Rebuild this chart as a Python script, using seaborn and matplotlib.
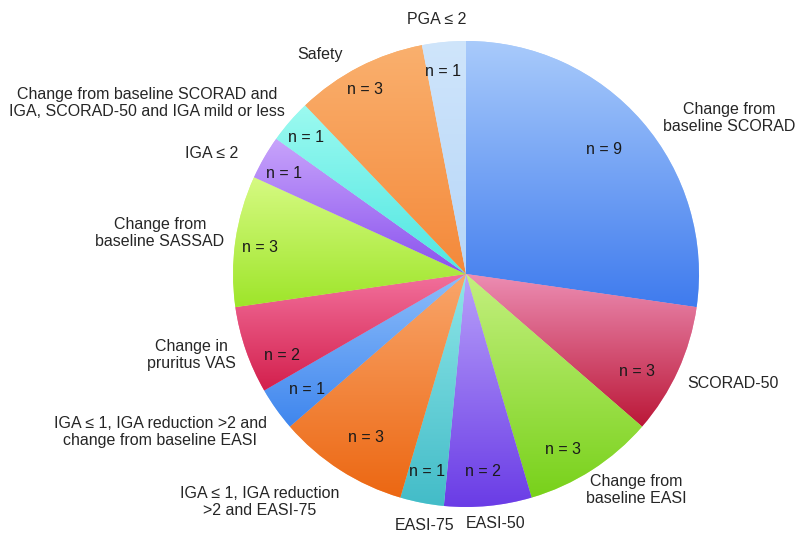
import numpy as np
import matplotlib
matplotlib.use("Agg")
import matplotlib.pyplot as plt
import seaborn as sns
from matplotlib.colors import to_rgb

# ---- data ----
categories = [
    "Change from\nbaseline SCORAD",
    "SCORAD-50",
    "Change from\nbaseline EASI",
    "EASI-50",
    "EASI-75",
    "IGA \u2264 1, IGA reduction\n>2 and EASI-75",
    "IGA \u2264 1, IGA reduction >2 and\nchange from baseline EASI",
    "Change in\npruritus VAS",
    "Change from\nbaseline SASSAD",
    "IGA \u2264 2",
    "Change from baseline SCORAD and\nIGA, SCORAD-50 and IGA mild or less",
    "Safety",
    "PGA \u2264 2",
]
counts = [9, 3, 3, 2, 1, 3, 1, 2, 3, 1, 1, 3, 1]
top_colors = ["#a9cbfb", "#ec8db3", "#c4f07f", "#b9a1fa", "#8ee6e8", "#f9a66b",
              "#8dbdfa", "#f2709c", "#d6fa82", "#c8a4fb", "#9cfaf0", "#fab06e", "#cfe5fb"]
bot_colors = ["#3f7bee", "#bb1737", "#78d11a", "#6a3ce6", "#43bcc8", "#ec6712",
              "#3f86ee", "#d31f4c", "#9ee52a", "#8a52ee", "#4fe6e2", "#f4893a", "#b6d6f8"]

# label positions (pixel layout of reference, y measured from top)
outer_pos = [(729, 118), (733, 384), (636, 490), (496, 524), (425, 525), (260, 502),
             (160, 432), (191, 355), (160, 233), (212, 153), (147, 103), (320, 54), (437, 20)]
inner_pos = [(604, 149), (637, 371), (563, 449), (483, 472), (427, 472), (366, 438),
             (307, 389), (282, 355), (260, 248), (284, 173), (306, 138), (365, 89), (443, 72)]

W, H = 808, 544
sns.set_theme(style="white")
plt.rcParams["font.family"] = ["Liberation Sans", "DejaVu Sans"]

fig = plt.figure(figsize=(W / 100, H / 100), dpi=100)
ax = fig.add_axes([0, 0, 1, 1])

cx, cy, R = 466, H - 274, 233
wedges, _ = ax.pie(counts, startangle=90, counterclock=False, radius=R, center=(cx, cy),
                   colors=top_colors, wedgeprops=dict(linewidth=0))

for w, tc, bc in zip(wedges, top_colors, bot_colors):
    verts = w.get_path().vertices
    x0, x1 = verts[:, 0].min(), verts[:, 0].max()
    y0, y1 = verts[:, 1].min(), verts[:, 1].max()
    t = np.linspace(0, 1, 256)[:, None]
    grad = (1 - t) * np.array(to_rgb(tc)) + t * np.array(to_rgb(bc))
    img = grad[:, None, :]
    im = ax.imshow(img, extent=(x0, x1, y0, y1), origin="upper", aspect="auto",
                   interpolation="bilinear", zorder=w.get_zorder() + 0.1)
    im.set_clip_path(w)

for (x, y), lab in zip(outer_pos, categories):
    ax.text(x, H - y, lab, ha="center", va="center", fontsize=11.5, color="#262626",
            linespacing=1.2)
for (x, y), n in zip(inner_pos, counts):
    ax.text(x, H - y, f"n = {n}", ha="center", va="center", fontsize=11.5, color="#1a1a1a",
            zorder=10)

ax.set_xlim(0, W)
ax.set_ylim(0, H)
ax.set_aspect("equal")
ax.axis("off")
fig.savefig("out.png", dpi=100, facecolor="white")
